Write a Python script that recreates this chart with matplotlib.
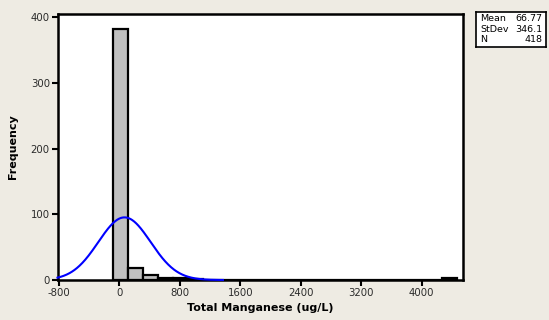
import numpy as np
import matplotlib
matplotlib.use("Agg")
import matplotlib.pyplot as plt

# Histogram of total manganese concentrations
bin_start = -80.0
bin_width = 198.0
counts = [382, 18, 7, 3, 3, 2, 0, 0, 0, 0, 0, 0,
          0, 0, 0, 0, 0, 0, 0, 0, 0, 0, 3]
x_ticks = [-800, 0, 800, 1600, 2400, 3200, 4000]
y_ticks = [0, 100, 200, 300, 400]
mean_val = 66.77
std_val = 346.1
n_val = 418

bg = "#EEEBE3"
fig = plt.figure(figsize=(5.49, 3.20), dpi=100, facecolor=bg)
W, H = 549, 320
ax = fig.add_axes([57.5 / W, 1 - 280 / H, (463.5 - 57.5) / W, (280 - 13.5) / H])
ax.set_facecolor("white")

edges = bin_start + bin_width * np.arange(len(counts) + 1)
ax.bar(edges[:-1], counts, width=bin_width, align="edge",
       color="#C0C0C0", edgecolor="black", linewidth=1.6, zorder=2)

# Fitted normal curve scaled to counts
xs = np.linspace(-820, 1370, 400)
ys = n_val * bin_width / (std_val * np.sqrt(2 * np.pi)) * np.exp(-0.5 * ((xs - mean_val) / std_val) ** 2)
ax.plot(xs, ys, color="#0000FF", linewidth=1.5, zorder=3, clip_on=False)

ax.set_xlim(-820, 4555)
ax.set_ylim(0, 406)
ax.set_xticks(x_ticks)
ax.set_yticks(y_ticks)
ax.set_xticklabels([str(v) for v in x_ticks])
ax.set_yticklabels([str(v) for v in y_ticks])
ax.tick_params(direction="out", length=4, width=1.5, labelsize=7.3,
               labelcolor="#2a2a2a", pad=1.5)
ax.tick_params(axis="x", top=False)
ax.tick_params(axis="y", right=False)
for s in ax.spines.values():
    s.set_linewidth(1.8)
    s.set_color("black")

ax.set_xlabel("Total Manganese (ug/L)", fontsize=8, fontweight="bold", labelpad=4)
ax.set_ylabel("Frequency", fontsize=8, fontweight="bold", labelpad=9)

# Summary statistics box
bx = fig.add_axes([476 / W, 1 - 47 / H, (546 - 476) / W, (47 - 12) / H])
bx.set_xticks([]); bx.set_yticks([])
bx.set_facecolor("white")
for s in bx.spines.values():
    s.set_linewidth(1.2)
    s.set_color("black")
rows = [("Mean", f"{mean_val:.2f}"), ("StDev", f"{std_val:.1f}"), ("N", str(n_val))]
for i, (k, v) in enumerate(rows):
    yy = 0.82 - i * 0.31
    bx.text(0.06, yy, k, fontsize=6.8, va="center", ha="left", transform=bx.transAxes)
    bx.text(0.95, yy, v, fontsize=6.8, va="center", ha="right", transform=bx.transAxes)

fig.savefig("out.png", dpi=100, facecolor=bg)
